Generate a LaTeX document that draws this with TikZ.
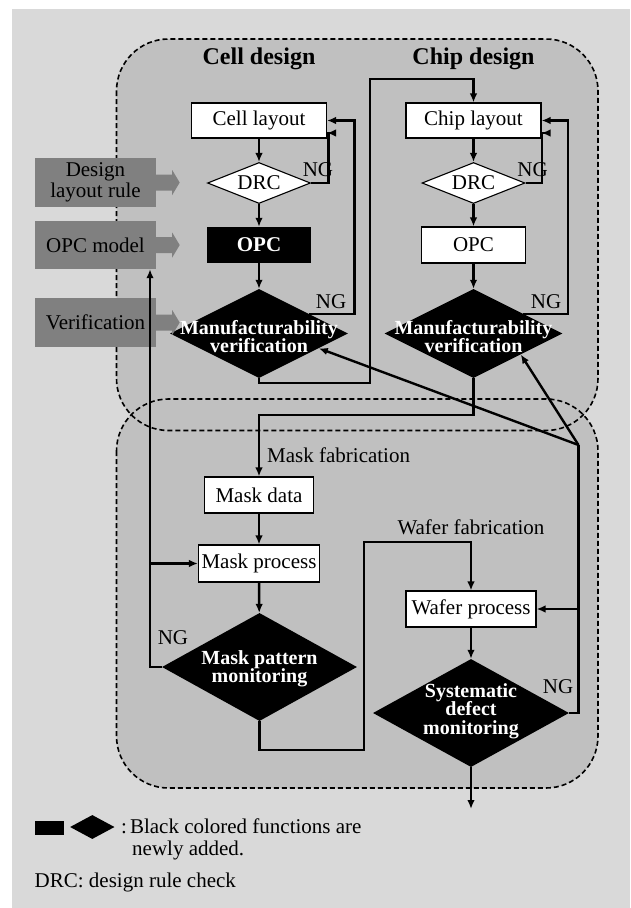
\documentclass[tikz,border=0pt]{standalone}
\usepackage{fontspec}
\setmainfont{Liberation Serif}
\usetikzlibrary{shapes.geometric,arrows.meta,calc}
\definecolor{bglight}{HTML}{D9D9D9}
\definecolor{bgmid}{HTML}{C0C0C0}
\definecolor{boxgray}{HTML}{808080}
\begin{document}
\begin{tikzpicture}[x=1pt,y=-1pt,
  every node/.style={font=\fontsize{21}{22}\selectfont},
  conn/.style={line width=2.4pt,-{Latex[length=9pt,width=7.5pt]}},
  plain/.style={line width=2.4pt},
  wbox/.style={draw=black,line width=1.1pt,fill=white,inner sep=0pt},
  bbox/.style={fill=black,inner sep=0pt,text=white,font=\fontsize{21}{22}\selectfont\bfseries},
  wdia/.style={diamond,draw=black,line width=1.1pt,fill=white,inner sep=0pt},
  bdia/.style={diamond,fill=black,inner sep=0pt},
  dtext/.style={text=white,font=\fontsize{20}{18.5}\selectfont\bfseries,align=center,inner sep=0pt},
  gbox/.style={fill=boxgray,inner sep=0pt,align=center,minimum width=121pt},
  region/.style={draw=black,line width=1.6pt,dash pattern=on 5pt off 3pt,rounded corners=52pt},
  regfill/.style={fill=bgmid,rounded corners=52pt},
  title/.style={font=\fontsize{24}{26}\selectfont\bfseries},
  lbl/.style={inner sep=0pt}
]
\useasboundingbox (0,0) rectangle (630,908);
\fill[bglight] (12,8.7) rectangle (630,908);

% regions
\fill[regfill] (116.5,39) rectangle (598,430.5);
\fill[regfill] (116.5,399) rectangle (598,788);
\draw[region] (116.5,39) rectangle (598,430.5);
\draw[region] (116.5,399) rectangle (598,788);

% titles
\node[title] (t1) at (259,59) {Cell design};
\node[title] (t2) at (473.5,59) {Chip design};

% cell design column
\node[wbox,minimum width=135pt,minimum height=35pt] (cl1) at (259,120.5) {Cell layout};
\node[wdia,minimum width=103pt,minimum height=41pt,label={[lbl]center:DRC}] (drc1) at (259,183) {};
\node[bbox,minimum width=104pt,minimum height=36pt] (opc1) at (259,245) {OPC};
\node[bdia,minimum width=178pt,minimum height=89pt,label={[dtext,yshift=-3pt]center:{Manufacturability\\verification}}] (mv1) at (259,333.5) {};

% chip design column
\node[wbox,minimum width=135pt,minimum height=35pt] (cl2) at (473.5,120.5) {Chip layout};
\node[wdia,minimum width=103pt,minimum height=41pt,label={[lbl]center:DRC}] (drc2) at (473.5,183) {};
\node[wbox,minimum width=104pt,minimum height=36pt] (opc2) at (473.5,245) {OPC};
\node[bdia,minimum width=178pt,minimum height=89pt,label={[dtext,yshift=-3pt]center:{Manufacturability\\verification}}] (mv2) at (473.5,333.5) {};

% left gray inputs
\node[gbox,minimum height=49pt] (dlr) at (95.5,182.5) {Design\\[-1pt]layout rule};
\node[gbox,minimum height=48pt] (opcm) at (95.5,245) {OPC model};
\node[gbox,minimum height=49pt] (ver) at (95.5,322.5) {Verification};
\foreach \b in {dlr,opcm,ver}{
  \fill[boxgray] ($(\b.east)+(0,-8)$) -- ++(16,0) -- ++(0,-4.5) -- ++(7.5,12.5)
     -- ++(-7.5,12.5) -- ++(0,-4.5) -- ++(-16,0) -- cycle;
}

% NG labels (design)
\node[lbl] (ng1) at (318,170) {NG};
\node[lbl] (ng2) at (532.5,170) {NG};
\node[lbl] (ng3) at (331,302) {NG};
\node[lbl] (ng4) at (546,302) {NG};

% lower part
\node[wbox,minimum width=109pt,minimum height=36pt] (md) at (259,495) {Mask data};
\node[wbox,minimum width=121pt,minimum height=37pt] (mp) at (259,563.5) {Mask process};
\node[bdia,minimum width=195pt,minimum height=108pt,label={[dtext,yshift=-2pt]center:{Mask pattern\\monitoring}}] (mpm) at (259.5,667) {};
\node[wbox,minimum width=130pt,minimum height=36pt] (wp) at (471,609) {Wafer process};
\node[bdia,minimum width=196pt,minimum height=108pt,label={[dtext,yshift=2pt]center:{Systematic\\defect\\monitoring}}] (sdm) at (471,713) {};

\node[lbl,anchor=west] (mfab) at (267,455) {Mask fabrication};
\node[lbl] (wfab) at (471,527) {Wafer fabrication};
\node[lbl] (ng5) at (173,638) {NG};
\node[lbl] (ng6) at (558,687) {NG};

% connectors: cell design
\draw[conn] (cl1) -- (drc1);
\draw[conn] (drc1) -- (opc1);
\draw[conn] (opc1) -- (mv1);
\draw[conn] (drc1.east) -- ++(17.5,0) |- ($(cl1.east)+(0,12.5)$);
\draw[conn] ($(mv1.north)!0.56!(mv1.east)$) -| ($(cl1.east)+(27.5,0)$) -- (cl1.east);

% connectors: chip design
\draw[conn] (cl2) -- (drc2);
\draw[conn] (drc2) -- (opc2);
\draw[conn] (opc2) -- (mv2);
\draw[conn] (drc2.east) -- ++(16.7,0) |- ($(cl2.east)+(0,12.5)$);
\draw[conn] ($(mv2.north)!0.56!(mv2.east)$) -| ($(cl2.east)+(26.7,0)$) -- (cl2.east);

% cell -> chip
\coordinate (k1) at (370,79);
\draw[conn] (mv1.south) -- ++(0,5) -| (k1) -| (cl2.north);

% chip -> mask data
\draw[conn] (mv2.south) -- ++(0,37) -| (md.north);
\draw[conn] (md) -- (mp);
\draw[conn] (mp) -- (mpm);

% mask NG loop
\coordinate (ngl) at (150,667);
\draw[conn] (mpm.west) -- (ngl) -- (opcm.south -| ngl);
\draw[conn] (mp.west -| ngl) -- (mp.west);

% mask -> wafer
\coordinate (k2) at (364,541.7);
\draw[conn] (mpm.south) -- ++(0,29) -| (k2) -| (wp.north);
\draw[conn] (wp) -- (sdm);
\coordinate (out) at (471,809);
\draw[conn] (sdm.south) -- (out);

% wafer NG loop
\coordinate (jn) at (578.5,445);
\draw[plain] (sdm.east) -| (jn);
\draw[conn] (wp.east -| jn) -- (wp.east);
\draw[conn] (jn) -- ($(mv1.east)!0.33!(mv1.south)$);
\draw[conn] (jn) -- ($(mv2.east)!0.47!(mv2.south)$);

% legend
\node[fill=black,minimum width=29pt,minimum height=14pt,inner sep=0pt] (lgr) at (49.5,828) {};
\node[bdia,minimum width=44.5pt,minimum height=24pt] (lgd) at (92.3,827) {};
\node[lbl,anchor=west,align=left] (lgt) at (121,839) {:\hspace{3pt}Black colored functions are\\\hspace*{11pt}newly added.};
\node[lbl,anchor=west] (drcn) at (34.5,882) {DRC: design rule check};
\end{tikzpicture}
\end{document}
